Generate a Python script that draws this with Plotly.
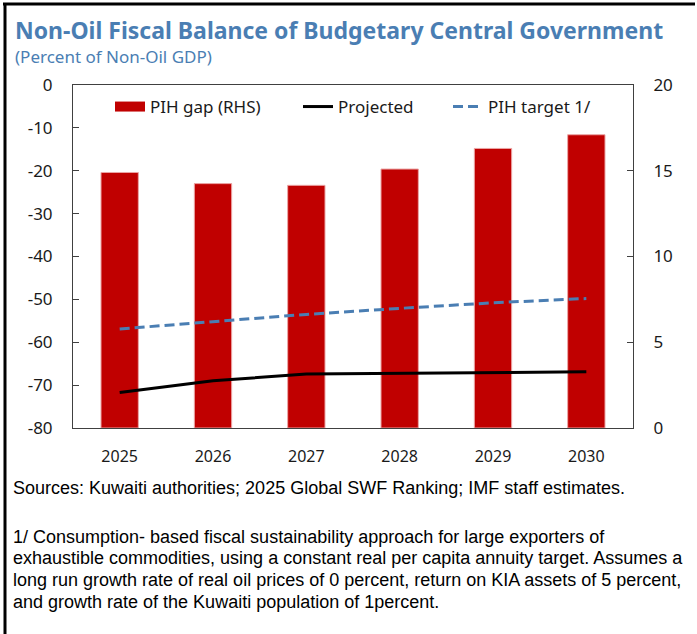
import plotly.graph_objects as go

years = ["2025", "2026", "2027", "2028", "2029", "2030"]
pih_gap = [14.9, 14.25, 14.15, 15.1, 16.3, 17.1]
projected = [-71.7, -69.0, -67.4, -67.2, -67.1, -66.9]
pih_target = [-56.9, -55.2, -53.5, -52.1, -50.8, -49.8]

left_ticks = [0, -10, -20, -30, -40, -50, -60, -70, -80]
left_tick_text = ["0", "-10", "-20", "-30", "-40", "-50", "-60", "-70", "-80"]
right_ticks = [0, 5, 10, 15, 20]

title = "Non-Oil Fiscal Balance of Budgetary Central Government"
subtitle = "(Percent of Non-Oil GDP)"
notes = [
    "Sources: Kuwaiti authorities; 2025 Global SWF Ranking; IMF staff estimates.",
    "1/ Consumption- based fiscal sustainability approach for large exporters of",
    "exhaustible commodities, using a constant real per capita annuity target. Assumes a",
    "long run growth rate of real oil prices of 0 percent, return on KIA assets of 5 percent,",
    "and growth rate of the Kuwaiti population of 1percent.",
]

BLUE = "#4A7EB3"
RED = "#C00000"
FONT = "Noto Sans"
NARROW = "Liberation Sans, Arial"

W, H = 697, 634
L, R, T, B = 73, 64, 85, 206
pw, ph = W - L - R, H - T - B

def px(x):
    return (x - L) / pw

def py(y):
    return (H - B - y) / ph

fig = go.Figure()
# bars on primary axis (right side), lines on overlaying axis so they draw on top
fig.add_trace(go.Bar(
    x=years, y=pih_gap, name="PIH gap (RHS)", yaxis="y",
    marker=dict(color=RED, line=dict(color="#EBA5A5", width=1)),
    width=0.4, showlegend=False,
))
# legend stand-in for the bar series (rectangular swatch)
fig.add_trace(go.Scatter(
    x=[None], y=[None], name="PIH gap (RHS)", mode="lines", yaxis="y",
    line=dict(color=RED, width=10), legend="legend",
))
fig.add_trace(go.Scatter(
    x=years, y=projected, name="Projected", mode="lines", yaxis="y2",
    line=dict(color="black", width=3), legend="legend2",
))
fig.add_trace(go.Scatter(
    x=years, y=pih_target, name="PIH target 1/", mode="lines", yaxis="y2",
    line=dict(color=BLUE, width=3, dash="10px,5px"), legend="legend3",
))

annotations = [
    dict(text="<b>" + title + "</b>", x=px(13), y=py(30), xref="paper", yref="paper",
         xanchor="left", yanchor="middle", showarrow=False,
         font=dict(family=FONT, size=23, color=BLUE)),
    dict(text=subtitle, x=px(13), y=py(57), xref="paper", yref="paper",
         xanchor="left", yanchor="middle", showarrow=False,
         font=dict(family=FONT, size=17, color=BLUE)),
]
note_y = [488, 537, 558, 580, 602]
for t, yy in zip(notes, note_y):
    annotations.append(dict(text=t, x=px(11), y=py(yy), xref="paper", yref="paper",
                            xanchor="left", yanchor="middle", showarrow=False,
                            font=dict(family=NARROW, size=18, color="black")))

leg_common = dict(orientation="h", xanchor="left", yanchor="middle",
                  bgcolor="rgba(0,0,0,0)", font=dict(size=17, color="#1a1a1a"),
                  borderwidth=0)

fig.update_layout(
    width=W, height=H,
    margin=dict(l=L, r=R, t=T, b=B, pad=0),
    paper_bgcolor="white", plot_bgcolor="white",
    font=dict(family=FONT, size=16, color="#1a1a1a"),
    showlegend=True,
    legend=dict(x=px(110), y=py(107), **leg_common),
    legend2=dict(x=px(298), y=py(107), **leg_common),
    legend3=dict(x=px(448), y=py(107), **leg_common),
    xaxis=dict(showline=True, linecolor="#404040", linewidth=1, mirror=True,
               ticks="", showgrid=False, ticklabelstandoff=14,
               tickfont=dict(size=16)),
    yaxis=dict(range=[0, 20], tickvals=right_ticks, side="right",
               showline=True, linecolor="#404040", linewidth=1, ticks="inside",
               ticklen=6, tickcolor="#404040", showgrid=False, zeroline=False,
               ticklabelstandoff=16, tickfont=dict(size=17)),
    yaxis2=dict(range=[-80, 0], tickvals=left_ticks, ticktext=left_tick_text,
                overlaying="y", side="left", showline=True, linecolor="#404040",
                linewidth=1, ticks="inside", ticklen=6, tickcolor="#404040",
                showgrid=False, zeroline=False, ticklabelstandoff=16,
                tickfont=dict(size=17)),
    annotations=annotations,
    shapes=[
        dict(type="line", xref="paper", yref="paper",
             x0=px(3), x1=px(695), y0=py(4), y1=py(4),
             line=dict(color="black", width=3), layer="above"),
        dict(type="line", xref="paper", yref="paper",
             x0=px(5), x1=px(5), y0=py(3), y1=py(650),
             line=dict(color="black", width=3), layer="above"),
    ],
)

fig.write_html("out.html")
